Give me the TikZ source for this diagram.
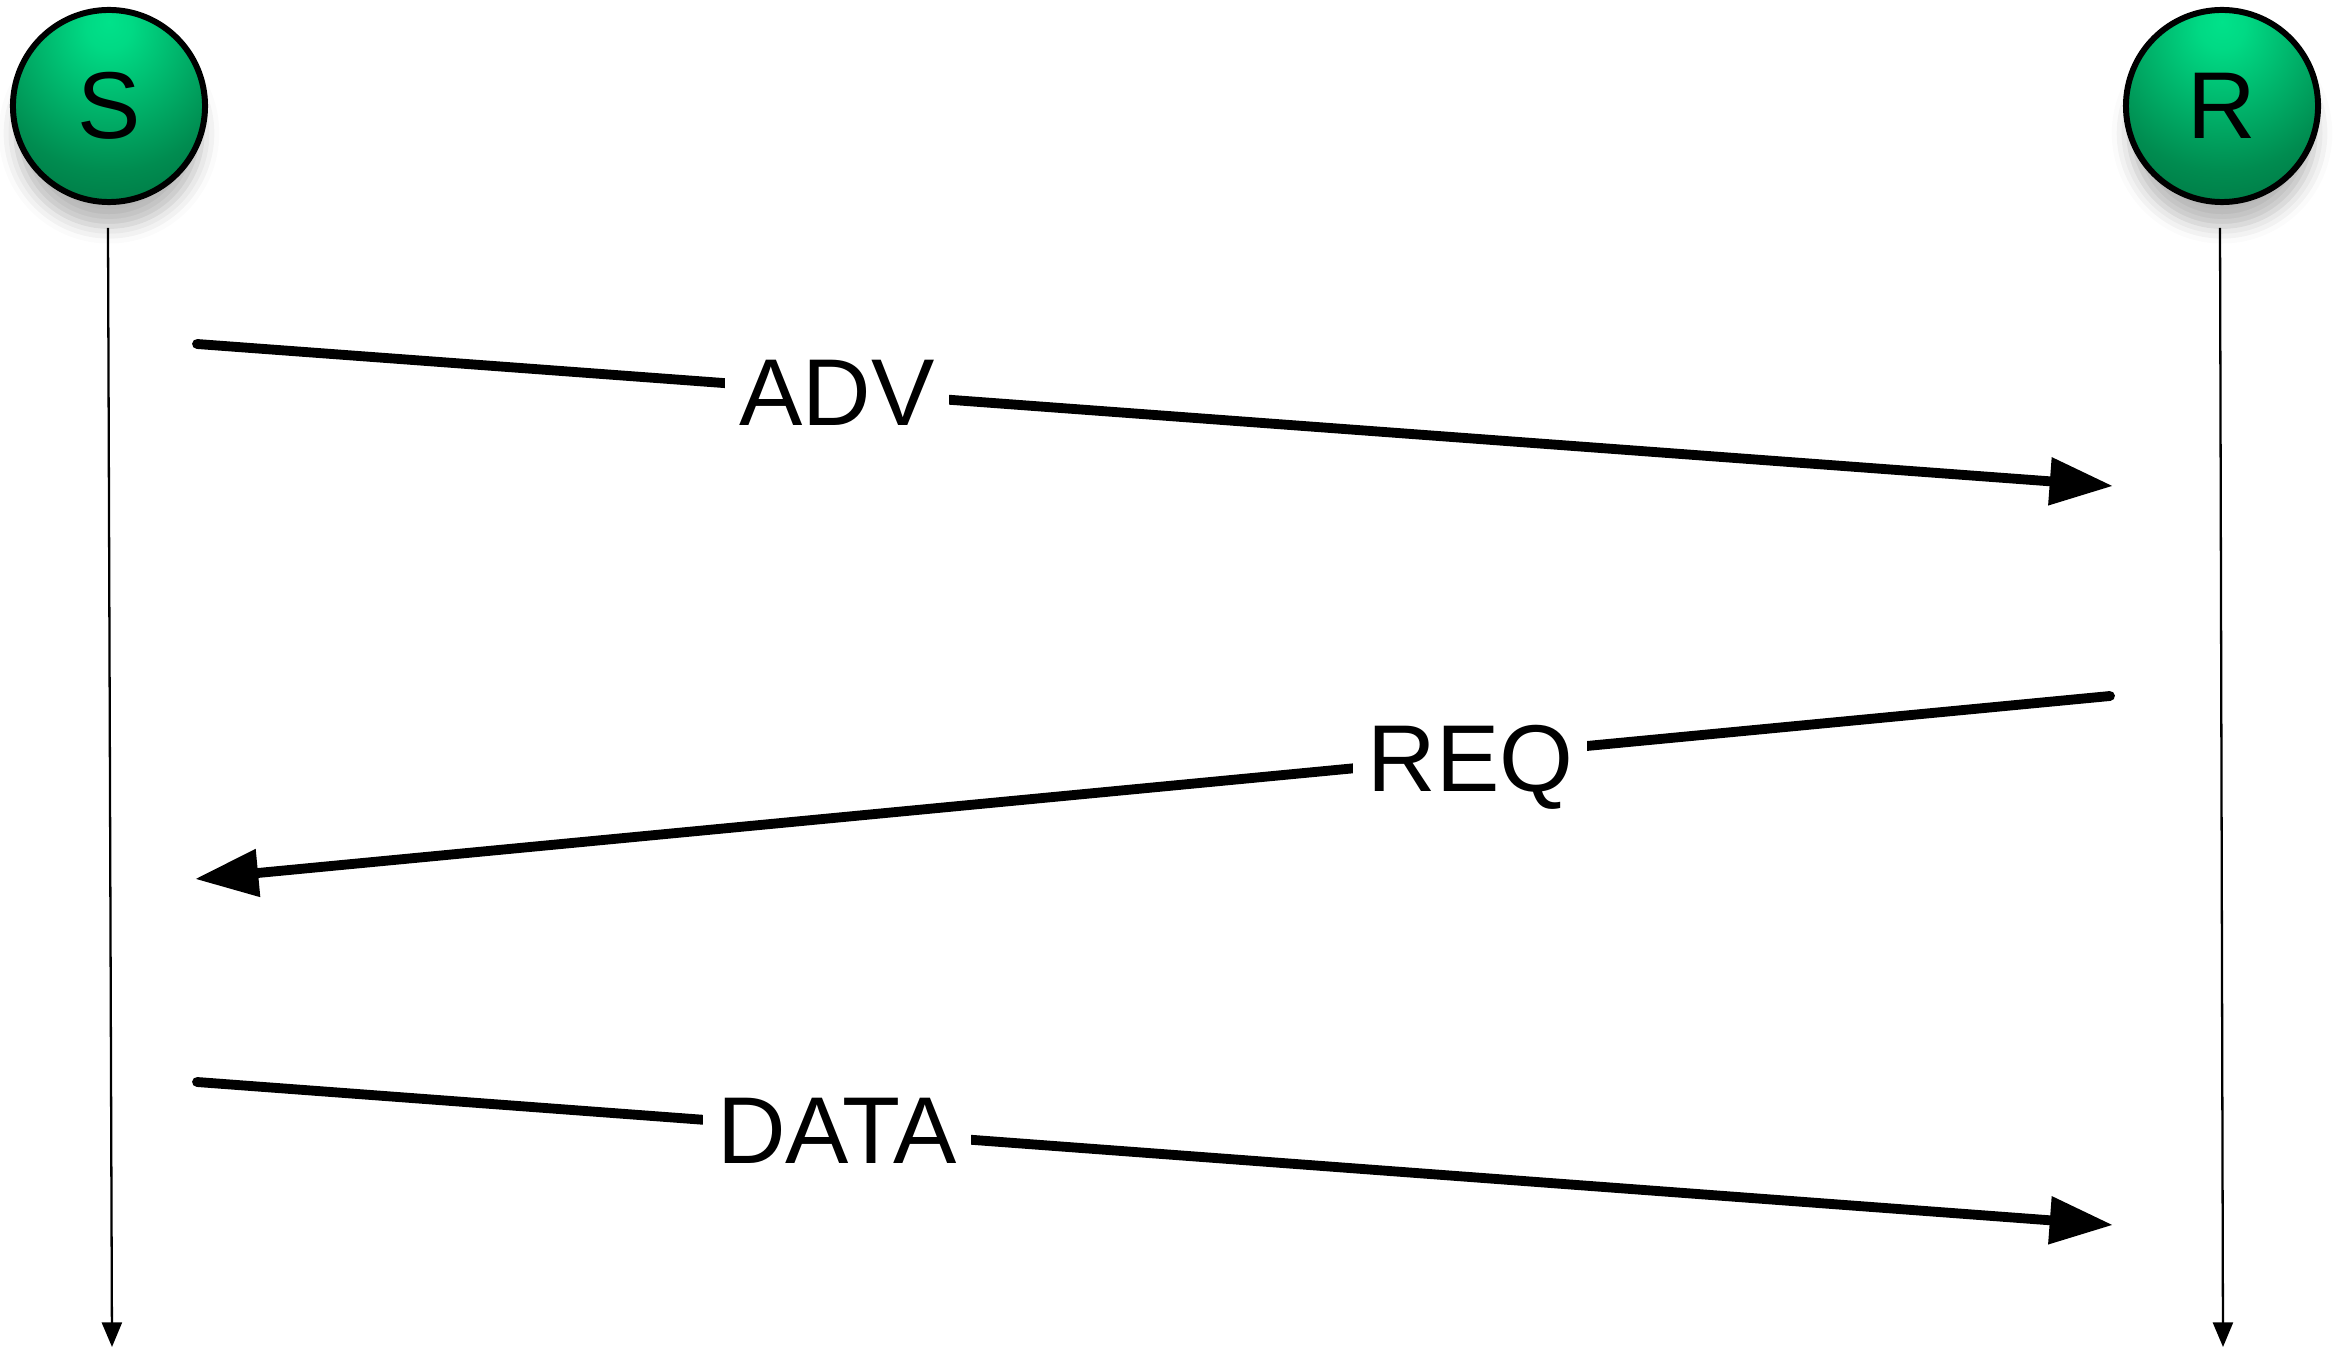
\documentclass[tikz,border=0pt]{standalone}
\usepackage{fontspec}
\setmainfont{Liberation Sans}
\usetikzlibrary{arrows.meta, shadows.blur}

% colours of the shaded party balls
\definecolor{ballhi}{RGB}{0,226,138}
\definecolor{ballmid}{RGB}{0,140,80}
\definecolor{balllo}{RGB}{0,72,40}

\pgfdeclareradialshading{nodeball}{\pgfpoint{0bp}{22bp}}{%
  color(0bp)=(ballhi); color(6bp)=(ballhi!90!ballmid); color(32bp)=(ballmid);
  color(66bp)=(balllo); color(100bp)=(balllo)}

\newcommand{\msgfont}{\fontsize{27}{32}\selectfont}

\tikzset{
  party/.style={circle, draw=black, line width=1.7pt, shading=nodeball,
    minimum size=1.92cm, inner sep=0pt, font=\msgfont,
    blur shadow={shadow xshift=0pt, shadow yshift=-8pt, shadow scale=0.97,
      shadow blur radius=5pt, shadow opacity=28}},
  lifeline/.style={line width=0.65pt, -{Triangle[length=7pt, width=5.7pt]}},
  msg/.style={line width=2.8pt, line cap=round,
    -{Triangle[length=18pt, width=13pt]}},
  msglabel/.style={fill=white, inner sep=4pt, font=\msgfont,
    text height=19.4pt, text depth=0pt, pos=0.334}
}

\begin{document}
\begin{tikzpicture}[x=0.01cm, y=-0.01cm]
  \useasboundingbox (0,0) rectangle (2336,1349);

  % Sender and receiver
  \node[party] (S) at (109,106) {S};
  \node[party] (R) at (2222,106) {R};

  % Lifelines
  \coordinate (S-top) at (108,228);
  \coordinate (S-end) at (112,1347);
  \coordinate (R-top) at (2220,228);
  \coordinate (R-end) at (2223,1347);
  \draw[lifeline] (S-top) -- (S-end);
  \draw[lifeline] (R-top) -- (R-end);

  % Message end points
  \coordinate (adv-s) at (197,344);
  \coordinate (adv-r) at (2113,486);
  \coordinate (req-r) at (2110,696);
  \coordinate (req-s) at (195,879);
  \coordinate (data-s) at (197,1082);
  \coordinate (data-r) at (2113,1225);

  % Messages
  \draw[msg] (adv-s) -- node[msglabel] (adv) {ADV} (adv-r);
  \draw[msg] (req-r) -- node[msglabel] (req) {REQ} (req-s);
  \draw[msg] (data-s) -- node[msglabel] (data) {DATA} (data-r);
\end{tikzpicture}
\end{document}
